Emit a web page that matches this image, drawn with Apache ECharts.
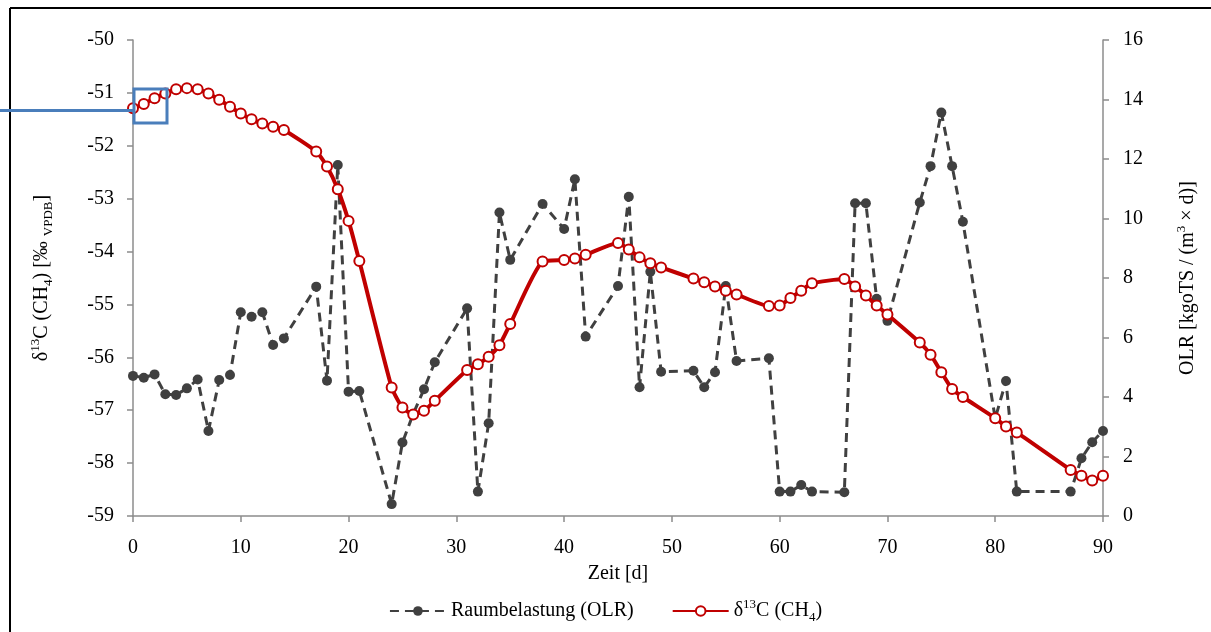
<!DOCTYPE html>
<html>
<head>
<meta charset="utf-8">
<script src="https://cdn.jsdelivr.net/npm/echarts@6/dist/echarts.min.js"></script>
<style>
html,body{margin:0;padding:0;background:#fff;}
#chart{width:1211px;height:632px;}
</style>
</head>
<body>
<div id="chart"></div>
<script>
// Days (Zeit [d])
const days = [0,1,2,3,4,5,6,7,8,9,10,11,12,13,14,17,18,19,20,21,24,25,26,27,28,31,32,33,34,35,38,40,41,42,45,46,47,48,49,52,53,54,55,56,59,60,61,62,63,66,67,68,69,70,73,74,75,76,77,80,81,82,87,88,89,90];
// Raumbelastung (OLR) [kgoTS/(m3 x d)]
const olr = [4.71,4.65,4.76,4.09,4.07,4.29,4.59,2.86,4.57,4.74,6.85,6.70,6.85,5.75,5.97,7.71,4.55,11.80,4.18,4.20,0.40,2.47,3.43,4.26,5.17,6.98,0.82,3.12,10.20,8.61,10.49,9.65,11.32,6.03,7.73,10.73,4.33,8.21,4.85,4.88,4.33,4.83,7.73,5.21,5.30,0.82,0.82,1.04,0.82,0.80,10.51,10.51,7.30,6.56,10.54,11.76,13.56,11.76,9.89,3.28,4.54,0.82,0.82,1.94,2.48,2.86];
// delta13C (CH4) [permil VPDB]
const d13c = [-51.29,-51.21,-51.10,-51.01,-50.93,-50.91,-50.93,-51.01,-51.13,-51.26,-51.39,-51.50,-51.58,-51.64,-51.70,-52.11,-52.39,-52.82,-53.42,-54.18,-56.57,-56.95,-57.08,-57.01,-56.82,-56.24,-56.13,-55.99,-55.77,-55.37,-54.19,-54.16,-54.13,-54.06,-53.84,-53.96,-54.11,-54.22,-54.30,-54.51,-54.58,-54.66,-54.74,-54.81,-55.03,-55.02,-54.88,-54.74,-54.60,-54.52,-54.66,-54.83,-55.02,-55.19,-55.72,-55.95,-56.28,-56.60,-56.75,-57.15,-57.31,-57.42,-58.13,-58.24,-58.33,-58.24];

const nameOLR = 'Raumbelastung (OLR)';
const nameD13C = 'δ13C (CH4)';

const FONT = '"Liberation Serif", "Times New Roman", serif';
const AXIS_COLOR = '#8c8c8c';

const chart = echarts.init(document.getElementById('chart'));
const richCommon = {
  b: {fontFamily: FONT, fontSize: 20, color: '#000', lineHeight: 26, verticalAlign: 'middle'},
  sup: {fontFamily: FONT, fontSize: 13, color: '#000', lineHeight: 13, verticalAlign: 'top'},
  sub: {fontFamily: FONT, fontSize: 13, color: '#000', lineHeight: 13, verticalAlign: 'bottom'}
};

chart.setOption({
  backgroundColor: '#fff',
  animation: false,
  grid: {left: 133, right: 108, top: 40, bottom: 116, containLabel: false},
  xAxis: {
    type: 'value', min: 0, max: 90, interval: 10,
    name: 'Zeit [d]', nameLocation: 'middle', nameGap: 48,
    nameTextStyle: {fontFamily: FONT, fontSize: 20, color: '#000'},
    axisLine: {show: true, lineStyle: {color: AXIS_COLOR, width: 1.5}},
    axisTick: {show: true, length: 6, lineStyle: {color: AXIS_COLOR, width: 1.5}},
    axisLabel: {fontFamily: FONT, fontSize: 20, color: '#000', margin: 22},
    splitLine: {show: false}
  },
  yAxis: [{
    type: 'value', min: -59, max: -50, interval: 1, position: 'left',
    name: '{b|δ}{sup|13}{b|C (CH}{sub|4}{b|) [‰ }{sub|VPDB}{b|]}',
    nameLocation: 'middle', nameGap: 78, nameRotate: 90,
    nameTextStyle: {rich: richCommon},
    axisLine: {show: true, onZero: false, lineStyle: {color: AXIS_COLOR, width: 1.5}},
    axisTick: {show: true, length: 6, lineStyle: {color: AXIS_COLOR, width: 1.5}},
    axisLabel: {fontFamily: FONT, fontSize: 20, color: '#000', margin: 19},
    splitLine: {show: false}
  }, {
    type: 'value', min: 0, max: 16, interval: 2, position: 'right',
    name: '{b|OLR [kgoTS / (m}{sup|3}{b| × d)]}',
    nameLocation: 'middle', nameGap: 72, nameRotate: 90,
    nameTextStyle: {rich: richCommon},
    axisLine: {show: true, onZero: false, lineStyle: {color: AXIS_COLOR, width: 1.5}},
    axisTick: {show: true, length: 6, lineStyle: {color: AXIS_COLOR, width: 1.5}},
    axisLabel: {fontFamily: FONT, fontSize: 20, color: '#000', margin: 20},
    splitLine: {show: false}
  }],
  legend: {
    bottom: 3, left: 'center',
    itemWidth: 56, itemHeight: 12, itemGap: 38,
    data: [nameOLR, nameD13C],
    formatter: function (n) {
      if (n === nameD13C) return '{b|δ}{sup|13}{b|C (CH}{sub|4}{b|)}';
      return '{b|' + n + '}';
    },
    textStyle: {rich: richCommon}
  },
  series: [{
    name: nameOLR, type: 'line', yAxisIndex: 1,
    data: days.map((d, i) => [d, olr[i]]),
    symbol: 'circle', symbolSize: 10,
    itemStyle: {color: '#404040'},
    lineStyle: {color: '#404040', width: 3, type: [9, 6]},
    z: 2
  }, {
    name: nameD13C, type: 'line', yAxisIndex: 0,
    data: days.map((d, i) => [d, d13c[i]]),
    smooth: 0.18,
    symbol: 'emptyCircle', symbolSize: 10,
    itemStyle: {color: '#C00000', borderWidth: 1.8},
    lineStyle: {color: '#C00000', width: 4},
    z: 3
  }],
  graphic: [
    {type: 'line', shape: {x1: 10, y1: 8, x2: 1211, y2: 8}, style: {stroke: '#000', lineWidth: 2}, z: 100},
    {type: 'line', shape: {x1: 10, y1: 8, x2: 10, y2: 632}, style: {stroke: '#000', lineWidth: 2}, z: 100},
    {type: 'rect', shape: {x: 134, y: 89, width: 33, height: 34}, style: {fill: 'none', stroke: '#4a7ebb', lineWidth: 3}, z: 100},
    {type: 'line', shape: {x1: 0, y1: 110.5, x2: 133, y2: 110.5}, style: {stroke: '#4a7ebb', lineWidth: 3}, z: 100}
  ]
});
</script>
</body>
</html>
